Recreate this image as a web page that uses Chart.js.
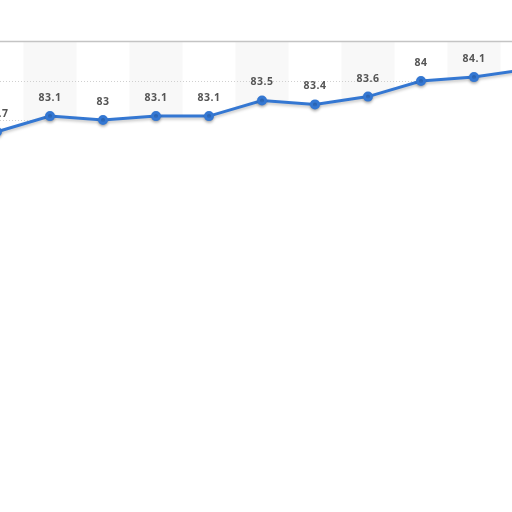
<!DOCTYPE html>
<html>
<head>
<meta charset="utf-8">
<script src="https://cdn.jsdelivr.net/npm/chart.js@4"></script>
<style>
  html, body { margin: 0; padding: 0; background: #fff; overflow: hidden; }
  #wrap { width: 512px; height: 512px; position: relative; }
</style>
</head>
<body>
<div id="wrap"><canvas id="myChart"></canvas></div>
<script>
// 各時点の値（x軸ラベルは画像外）
const idx = [0, 1, 2, 3, 4, 5, 6, 7, 8, 9, 10]
const values = [82.7, 83.1, 83, 83.1, 83.1, 83.5, 83.4, 83.6, 84, 84.1, 84.3]
const yTicks = [83, 84]

let pts = idx.map((el, i) => {
  return { x: el, y: values[i] }
})

// 縦縞の背景と点線のグリッド
const bands = {
  id: "bands",
  beforeDraw(chart) {
    let c = chart.ctx
    let a = chart.chartArea
    let xs = chart.scales.x
    let ys = chart.scales.y
    c.save()
    c.beginPath()
    c.rect(a.left, a.top, a.right - a.left, a.bottom - a.top)
    c.clip()
    for (let i = -1; i < idx.length + 1; i++) {
      if (i % 2 === 0) continue
      let l = xs.getPixelForValue(i - 0.5)
      let r = xs.getPixelForValue(i + 0.5)
      c.fillStyle = "#f8f8f8"
      c.fillRect(l, a.top, r - l, a.bottom - a.top)
    }
    c.strokeStyle = "#d0d0d0"
    c.lineWidth = 1
    c.setLineDash([1, 2])
    yTicks.forEach((v) => {
      let y = Math.round(ys.getPixelForValue(v)) + 0.5
      c.beginPath()
      c.moveTo(a.left, y)
      c.lineTo(a.right, y)
      c.stroke()
    })
    c.restore()
  },
  beforeDatasetDraw(chart) {
    let c = chart.ctx
    c.save()
    c.shadowColor = "rgba(0,0,0,0.22)"
    c.shadowBlur = 3
    c.shadowOffsetY = 2
  },
  afterDatasetDraw(chart) {
    chart.ctx.restore()
  },
  afterDatasetsDraw(chart) {
    let c = chart.ctx
    let a = chart.chartArea
    // 上の枠線
    c.save()
    c.strokeStyle = "#c4c4c4"
    c.lineWidth = 1.5
    c.beginPath()
    c.moveTo(a.left, a.top - 0.5)
    c.lineTo(a.right, a.top - 0.5)
    c.stroke()
    // 値ラベル
    let meta = chart.getDatasetMeta(0)
    c.fillStyle = "#555555"
    c.font = "bold 10.5px 'Open Sans'"
    c.letterSpacing = "0.5px"
    c.textAlign = "center"
    c.textBaseline = "middle"
    meta.data.forEach((p, i) => {
      if (p.x > a.right) return
      c.fillText(String(values[i]), p.x, p.y - 18)
    })
    c.restore()
  },
}

const ctx = document.getElementById("myChart")

new Chart(ctx, {
  type: "line",
  data: {
    datasets: [
      {
        data: pts,
        borderColor: "#3477d2",
        borderWidth: 3,
        pointBackgroundColor: "#3477d2",
        pointBorderColor: "#3477d2",
        pointRadius: 3.5,
        tension: 0,
        fill: "start",
        backgroundColor: "#ffffff",
      },
    ],
  },
  options: {
    responsive: true,
    maintainAspectRatio: false,
    animation: false,
    layout: { autoPadding: false, padding: { top: 42, left: 0, right: 0, bottom: 0 } },
    plugins: { legend: { display: false }, tooltip: { enabled: false } },
    scales: {
      x: {
        type: "linear",
        display: false,
        min: 3 / 53,
        max: 515 / 53,
      },
      y: {
        display: false,
        min: 85 - 470 / 39,
        max: 85,
      },
    },
  },
  plugins: [bands],
})
</script>
</body>
</html>
